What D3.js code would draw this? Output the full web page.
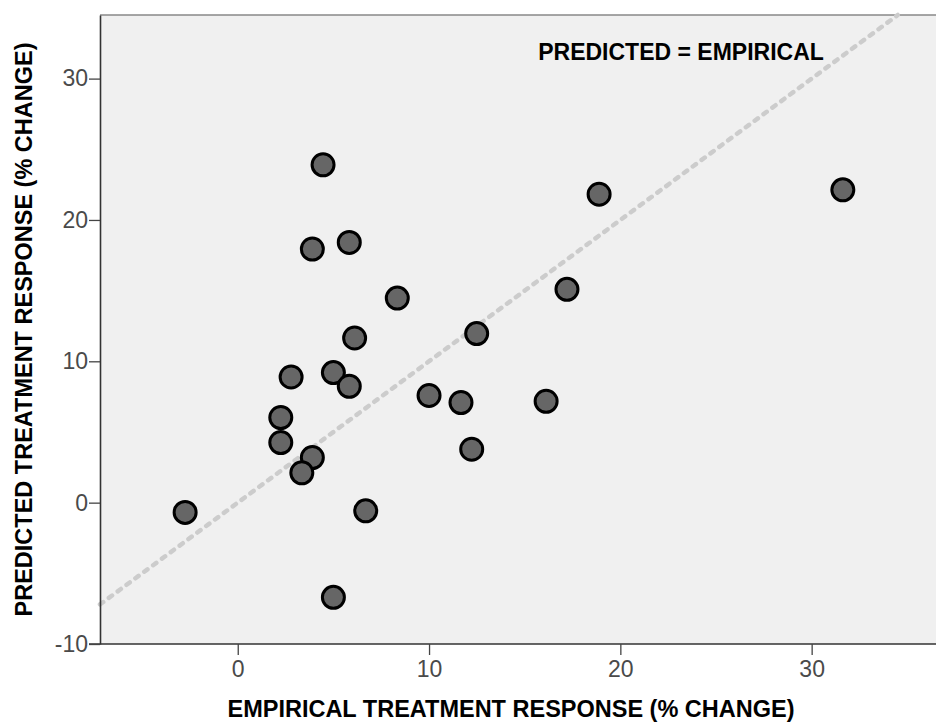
<!DOCTYPE html>
<html>
<head>
<meta charset="utf-8">
<script src="https://cdn.jsdelivr.net/npm/d3@7"></script>
<style>
  body { margin: 0; background: #fff; }
  svg { display: block; font-family: "Liberation Sans", Arial, sans-serif; }
</style>
</head>
<body>
<script>
// empirical vs predicted treatment response (% change)
const empirical = [-2.75, 4.46, 3.9, 5.83, 8.34, 6.11, 2.79, 5.0, 5.83, 2.25, 2.25, 3.9, 3.35, 6.69, 5.0,
  10.0, 11.67, 12.23, 12.49, 16.12, 17.21, 18.89, 31.63];
const predicted = [-0.69, 23.9, 17.94, 18.41, 14.47, 11.65, 8.89, 9.2, 8.23, 6.02, 4.25, 3.19, 2.11, -0.58, -6.7,
  7.58, 7.08, 3.78, 11.96, 7.17, 15.09, 21.82, 22.13];
const xTicks = [0, 10, 20, 30];
const yTicks = [-10, 0, 10, 20, 30];

const width = 936;
const height = 722;
const margin = { top: 15, right: 0, bottom: 78, left: 100 };

const svg = d3.select("body").append("svg")
  .attr("width", width)
  .attr("height", height);

const x = d3.scaleLinear().domain([-7.2, 36.5]).range([margin.left, width - margin.right]);
const y = d3.scaleLinear().domain([-10, 34.5]).range([height - margin.bottom, margin.top]);

// plot background
svg.append("rect")
  .attr("x", margin.left)
  .attr("y", margin.top)
  .attr("width", width - margin.right - margin.left)
  .attr("height", height - margin.bottom - margin.top)
  .attr("fill", "#f0f0f0");

svg.append("line")
  .attr("x1", margin.left).attr("x2", width)
  .attr("y1", margin.top).attr("y2", margin.top)
  .attr("stroke", "#888").attr("stroke-width", 1.5);

// reference line y = x
const lo = Math.max(x.domain()[0], y.domain()[0]);
const hi = Math.min(x.domain()[1], y.domain()[1]);
svg.append("line")
  .attr("x1", x(lo)).attr("y1", y(lo))
  .attr("x2", x(hi)).attr("y2", y(hi))
  .attr("stroke", "#cccccc")
  .attr("stroke-width", 4.5)
  .attr("stroke-linecap", "round")
  .attr("stroke-dasharray", "4,7");

// axes
const fmt = (d) => String(d);
const xAxis = svg.append("g")
  .attr("transform", `translate(0,${height - margin.bottom})`)
  .call(d3.axisBottom(x).tickValues(xTicks).tickFormat(fmt).tickSize(11).tickSizeOuter(0).tickPadding(6));
const yAxis = svg.append("g")
  .attr("transform", `translate(${margin.left},0)`)
  .call(d3.axisLeft(y).tickValues(yTicks).tickFormat(fmt).tickSize(11).tickSizeOuter(0).tickPadding(1));

[xAxis, yAxis].forEach((g) => {
  g.attr("font-size", 23).attr("font-family", "'Liberation Sans', Arial, sans-serif");
  g.select(".domain").attr("stroke", "#333").attr("stroke-width", 1.6);
  g.selectAll(".tick line").attr("stroke", "#444").attr("stroke-width", 1.3);
  g.selectAll(".tick text").attr("fill", "#4a4a4a");
});
// extend bottom axis across full width
xAxis.select(".domain").attr("d", `M${margin.left - 11},0H${width}`);

// points
svg.append("g")
  .selectAll("circle")
  .data(empirical.map((d, i) => [d, predicted[i]]))
  .join("circle")
  .attr("cx", (d) => x(d[0]))
  .attr("cy", (d) => y(d[1]))
  .attr("r", 11)
  .attr("fill", "#666")
  .attr("stroke", "#000")
  .attr("stroke-width", 3);

// labels
svg.append("text")
  .attr("x", 681).attr("y", 60)
  .attr("text-anchor", "middle")
  .attr("font-size", 23).attr("font-weight", "bold")
  .text("PREDICTED = EMPIRICAL");

svg.append("text")
  .attr("x", 511).attr("y", 717)
  .attr("text-anchor", "middle")
  .attr("font-size", 23.5).attr("font-weight", "bold")
  .text("EMPIRICAL TREATMENT RESPONSE (% CHANGE)");

svg.append("text")
  .attr("transform", `translate(32,${(margin.top + height - margin.bottom) / 2}) rotate(-90)`)
  .attr("text-anchor", "middle")
  .attr("font-size", 23.5).attr("font-weight", "bold")
  .text("PREDICTED TREATMENT RESPONSE (% CHANGE)");
</script>
</body>
</html>
